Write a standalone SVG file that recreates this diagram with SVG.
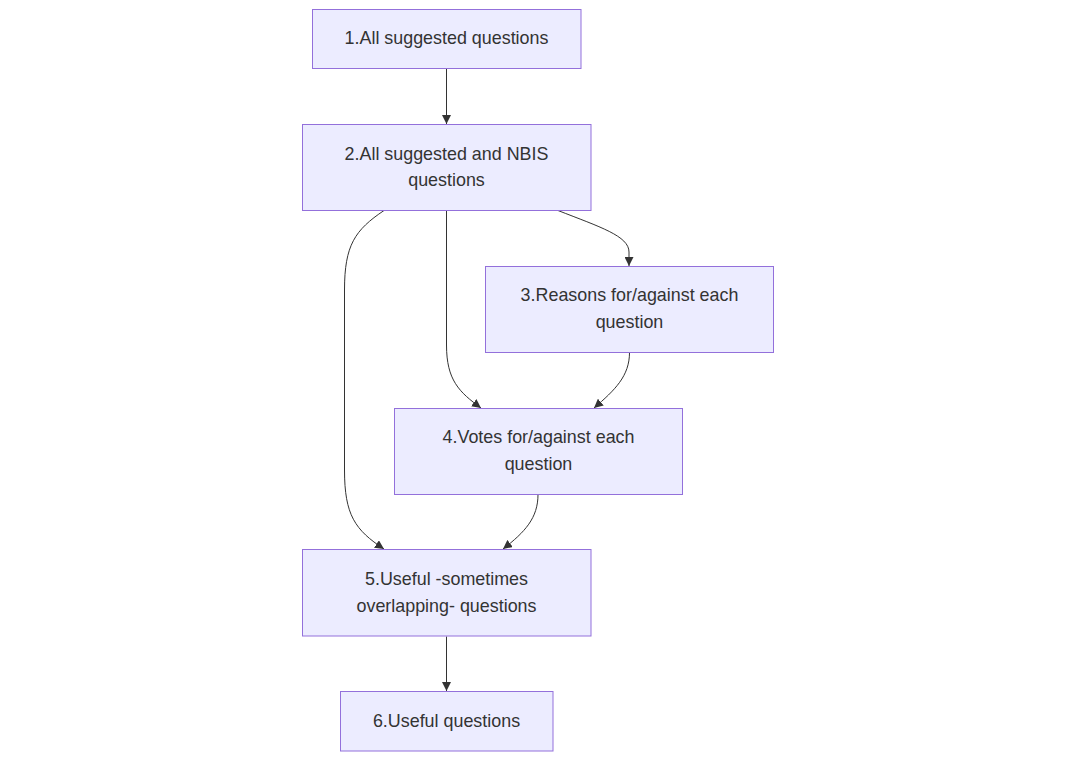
<svg xmlns="http://www.w3.org/2000/svg" width="1076" height="760" viewBox="0 0 1076 760">
<style>
.node rect{fill:#ECECFF;stroke:#9370DB;stroke-width:1px}
.node text{font-family:"Liberation Sans",Arial,sans-serif;font-size:17.9px;fill:#333;text-anchor:middle}
.edges path{fill:none;stroke:#333333;stroke-width:1px}
</style>
<defs>
<marker id="arrow" viewBox="0 0 10 10" refX="10" refY="5" markerWidth="9" markerHeight="9" markerUnits="userSpaceOnUse" orient="auto">
<path d="M0,0 L10,5 L0,10 z" fill="#333333"/>
</marker>
</defs>
<rect width="1076" height="760" fill="#ffffff"/>
<g class="edges">
<path d="M446.5,68.5 L446.5,124" marker-end="url(#arrow)"/>
<path d="M558,210.5 C600,227 629,236 629,252 L629,266" marker-end="url(#arrow)"/>
<path d="M446.5,210.5 L446.5,345 C446.5,380 459,392 481,408" marker-end="url(#arrow)"/>
<path d="M384,210.5 C355,230 344.5,245 344.5,290 L344.5,470 C344.5,515 355,530 384,549" marker-end="url(#arrow)"/>
<path d="M629.5,352.5 C629.5,376 615,390 594,408" marker-end="url(#arrow)"/>
<path d="M538,494.5 C538,518 525,532 503,549" marker-end="url(#arrow)"/>
<path d="M446.5,636.5 L446.5,691" marker-end="url(#arrow)"/>
</g>
<g id="n1" class="node"><rect x="312.5" y="9.5" width="268.5" height="59"/><text x="446.5" y="44">1.All suggested questions</text></g>
<g id="n2" class="node"><rect x="302.5" y="124.5" width="288.5" height="86"/><text x="446.5" y="160">2.All suggested and NBIS</text><text x="446.5" y="186">questions</text></g>
<g id="n3" class="node"><rect x="485.5" y="266.5" width="288" height="86"/><text x="629.5" y="301">3.Reasons for/against each</text><text x="629.5" y="328">question</text></g>
<g id="n4" class="node"><rect x="394.5" y="408.5" width="288" height="86"/><text x="538.5" y="443">4.Votes for/against each</text><text x="538.5" y="470">question</text></g>
<g id="n5" class="node"><rect x="302.5" y="549.5" width="288.5" height="86.5"/><text x="446.5" y="585">5.Useful -sometimes</text><text x="446.5" y="612">overlapping- questions</text></g>
<g id="n6" class="node"><rect x="340.5" y="691.5" width="212.5" height="59.5"/><text x="446.5" y="727">6.Useful questions</text></g>
</svg>
